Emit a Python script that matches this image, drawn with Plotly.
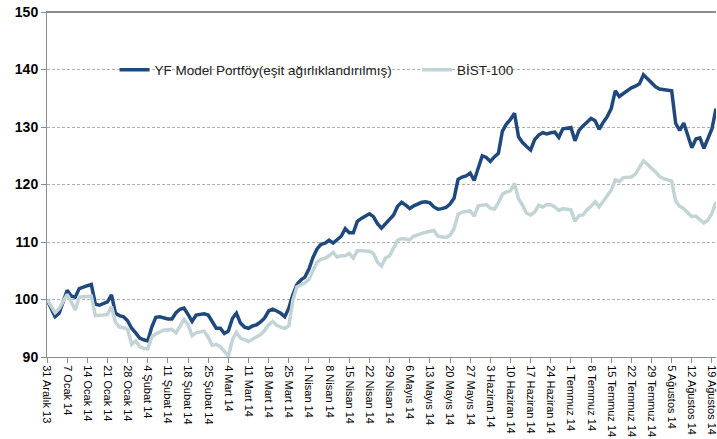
import pandas as pd
import plotly.graph_objects as go

# Trading days (weekdays) from 31 Dec 2013 to 20 Aug 2014
dates = [d.strftime("%Y-%m-%d") for d in pd.bdate_range("2013-12-31", "2014-08-20")]

portfoy = [
    100, 98.4, 97.0, 97.6, 99.4,
    101.6, 100.6, 100.4, 101.9, 102.2,
    102.4, 102.6, 99.2, 99.0, 99.3,
    99.6, 100.8, 97.6, 97.2, 97.0,
    96.3, 95.0, 94.2, 93.3, 93.0,
    92.8, 95.2, 96.9, 97.0, 96.8,
    96.6, 96.6, 97.7, 98.3, 98.5,
    97.4, 96.2, 97.3, 97.4, 97.5,
    97.3, 96.0, 95.0, 95.0, 94.1,
    94.5, 96.7, 97.6, 95.9, 95.2,
    95.0, 95.4, 95.6, 96.1, 96.8,
    98.0, 98.3, 98.0, 97.6, 97.0,
    98.5, 100.8, 102.6, 103.4, 103.9,
    105.3, 107.3, 108.8, 109.6, 109.8,
    110.3, 109.8, 110.4, 111.0, 112.3,
    111.6, 111.6, 113.6, 114.1, 114.5,
    114.9, 114.4, 113.2, 112.4, 113.2,
    113.9, 114.7, 116.2, 116.9, 116.4,
    115.8, 116.3, 116.6, 116.9, 117.0,
    116.8, 116.1, 115.7, 115.8, 116.0,
    116.6, 117.6, 120.9, 121.3, 121.5,
    122.0, 120.7, 123.0, 125.0, 124.7,
    124.0, 124.8, 125.4, 129.3, 130.5,
    131.3, 132.4, 128.3, 127.3, 126.6,
    126.0, 127.8, 128.6, 129.0, 128.8,
    129.0, 129.1, 128.2, 129.7, 129.8,
    129.9, 127.6, 129.4, 130.2, 130.9,
    131.5, 131.1, 129.6, 130.8, 131.8,
    133.2, 136.3, 135.3, 135.8, 136.3,
    136.8, 137.1, 137.5, 139.1, 138.4,
    137.6, 137.0, 136.6, 136.5, 136.4,
    136.3, 130.6, 129.4, 130.7, 128.7,
    126.4, 127.9, 128.1, 126.3, 128.0,
    129.7, 133.2,
]

bist100 = [
    100, 98.8, 97.7, 98.4, 99.7,
    100.9, 99.6, 98.2, 100.4, 100.5,
    100.6, 100.6, 97.2, 97.2, 97.3,
    97.4, 98.8, 96.0, 95.2, 95.1,
    94.8, 92.2, 92.8, 91.8, 91.5,
    91.4, 93.5, 94.0, 94.3, 94.7,
    94.7, 94.8, 94.2, 95.3, 96.5,
    95.6, 93.7, 94.2, 94.3, 94.5,
    93.4, 92.0, 92.2, 91.8, 91.0,
    90.1, 93.0, 94.3, 93.3, 93.0,
    92.7, 93.1, 93.5, 93.9, 94.6,
    95.6, 96.2, 95.5, 95.2, 95.0,
    95.4, 99.8, 102.2, 102.5, 102.9,
    103.5, 105.0, 106.5, 107.0, 107.2,
    107.6, 108.2, 107.4, 107.6, 107.6,
    108.0, 107.2, 108.5, 108.5, 108.5,
    108.4, 108.0, 106.5, 105.8, 107.2,
    107.6, 108.8, 110.3, 110.6, 110.5,
    110.4, 111.0, 111.3, 111.5, 111.7,
    111.8, 112.0, 111.0, 110.9, 110.8,
    111.2, 112.3, 114.8, 115.2, 115.3,
    115.4, 114.5, 116.3, 116.4, 116.5,
    115.9, 115.7, 116.8, 118.3, 118.7,
    118.9, 120.2, 117.5, 116.4, 115.0,
    114.7, 115.2, 116.4, 116.1, 116.5,
    116.5, 116.1, 115.5, 115.8, 115.7,
    115.6, 113.6, 114.6, 114.7, 115.6,
    116.2, 117.0, 116.1, 117.1, 118.2,
    119.0, 120.8, 120.5, 121.2, 121.3,
    121.3, 121.8, 122.9, 124.1, 123.5,
    122.9, 122.2, 121.4, 121.0, 120.8,
    120.6, 117.1, 116.2, 115.8, 115.2,
    114.4, 114.5, 113.8, 113.3, 113.8,
    115.0, 117.0,
]

tick_labels = [
    "31 Aralık 13", "7 Ocak 14", "14 Ocak 14", "21 Ocak 14", "28 Ocak 14",
    "4 Şubat 14", "11 Şubat 14", "18 Şubat 14", "25 Şubat 14", "4 Mart 14",
    "11 Mart 14", "18 Mart 14", "25 Mart 14", "1 Nisan 14", "8 Nisan 14",
    "15 Nisan 14", "22 Nisan 14", "29 Nisan 14", "6 Mayıs 14", "13 Mayıs 14",
    "20 Mayıs 14", "27 Mayıs 14", "3 Haziran 14", "10 Haziran 14", "17 Haziran 14",
    "24 Haziran 14", "1 Temmuz 14", "8 Temmuz 14", "15 Temmuz 14", "22 Temmuz 14",
    "29 Temmuz 14", "5 Ağustos 14", "12 Ağustos 14", "19 Ağustos 14",
]
tick_dates = dates[0:len(tick_labels) * 5:5]

series_names = ["YF Model Portföy(eşit ağırlıklandırılmış)", "BİST-100"]
y_ticks = [90, 100, 110, 120, 130, 140, 150]

fig = go.Figure()
fig.add_trace(go.Scatter(x=dates, y=portfoy, mode="lines", name=series_names[0],
                         line=dict(color="#1F497D", width=3.5), legend="legend"))
fig.add_trace(go.Scatter(x=dates, y=bist100, mode="lines", name=series_names[1],
                         line=dict(color="#C3D4D7", width=3.5), legend="legend2"))

legend_style = dict(orientation="h", yanchor="middle", xanchor="left", y=0.832,
                    bgcolor="rgba(0,0,0,0)", font=dict(size=13.5, color="#222222"))

fig.update_layout(
    width=717, height=439,
    margin=dict(l=47, r=1, t=12, b=82, autoexpand=False),
    paper_bgcolor="white", plot_bgcolor="white",
    font=dict(family="Liberation Sans, Arial, sans-serif", color="#000000"),
    legend=dict(x=0.101, **legend_style),
    legend2=dict(x=0.553, **legend_style),
    showlegend=True,
)
fig.update_xaxes(
    type="category", range=[0, len(dates) - 1], automargin=False,
    tickmode="array", tickvals=tick_dates, ticktext=tick_labels,
    tickangle=90, tickfont=dict(size=11, color="#000000"),
    ticklabeloverflow="allow",
    showgrid=False, showline=True, mirror=True, linecolor="#8c8c8c", linewidth=1,
    ticks="outside", ticklen=5, tickcolor="#8c8c8c",
)
fig.update_yaxes(
    range=[90, 150], tickmode="array", tickvals=y_ticks, automargin=False,
    tickfont=dict(size=14, color="#000000", weight="bold"),
    ticklabeloverflow="allow",
    showgrid=True, gridcolor="#b0b0b0", gridwidth=1, griddash="3px,2px",
    showline=True, linecolor="#8c8c8c", linewidth=1,
    ticks="outside", ticklen=5, tickcolor="#8c8c8c", zeroline=False,
)
fig.add_shape(type="line", xref="paper", yref="paper", x0=0, x1=1, y0=1, y1=1,
              line=dict(color="#8c8c8c", width=2), layer="above")

# remove the browser's default 8px body margin so the figure fills the window
fig.write_html("out.html", config={"displayModeBar": False},
               post_script="document.body.style.margin='0';")
